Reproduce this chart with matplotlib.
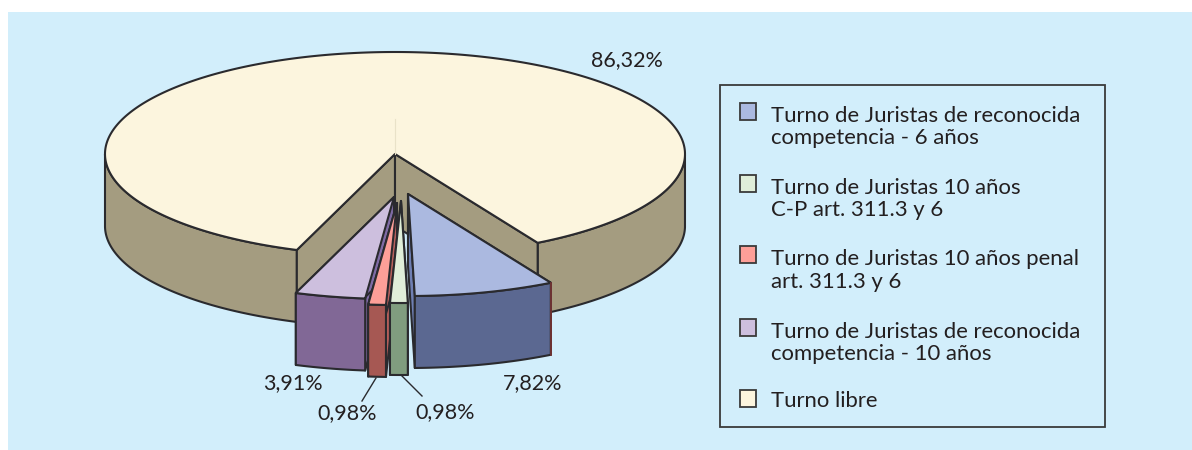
import numpy as np
import matplotlib
matplotlib.use('Agg')
import matplotlib.pyplot as plt
from matplotlib.patches import Polygon, Rectangle

plt.rcParams['font.family'] = ['Lato', 'DejaVu Sans']

# values as printed on the chart, clockwise from the lower right
labels = ['Turno de Juristas de reconocida\ncompetencia - 6 años',
          'Turno de Juristas 10 años\nC-P art. 311.3 y 6',
          'Turno de Juristas 10 años penal\nart. 311.3 y 6',
          'Turno de Juristas de reconocida\ncompetencia - 10 años',
          'Turno libre']
values = [7.82, 0.98, 0.98, 3.91, 86.32]
value_text = ['7,82%', '0,98%', '0,98%', '3,91%', '86,32%']
top_colors = ['#abb9e0', '#e0eed9', '#fd9f98', '#cdbfde', '#fcf5de']
wall_colors = ['#5b6891', '#809d7f', '#a65853', '#816896', '#a49c80']
cut_colors = ['#6f7fb3', '#809d7f', '#b8605c', '#7f6ba5', '#a49c80']
# apex of each slice, in pixels
apex_x = [408, 401, 397, 394, 395]
apex_y = [194, 201, 203, 197, 154]
text_x = [533, 445, 347, 293, 627]
text_y = [383, 412, 413, 383, 60]
swatch_y = [103, 175, 246, 319, 390]
legend_y = [127, 199, 270.5, 343, 401]

rx, ry, depth = 290, 102, 72
start = -60.5
edge = '#2a2a2e'


def rim(a, cx, cy):
    t = np.radians(a)
    return np.column_stack([cx + rx * np.cos(t), cy - ry * np.sin(t)])


def poly(ax, pts, color, z, lw=1.5):
    ax.add_patch(Polygon(pts, closed=True, facecolor=color, edgecolor=edge,
                         linewidth=lw, joinstyle='round', zorder=z))


def wall(ax, a, cx, cy, color, z):
    # only the part of the rim facing the viewer (below the horizontal)
    a = a[(np.sin(np.radians(a)) <= 0)]
    if len(a) < 2:
        return
    p = rim(a, cx, cy)
    q = p[::-1] + [0, depth]
    poly(ax, np.vstack([p, q]), color, z)


fig = plt.figure(figsize=(11.92, 4.5), dpi=100)
ax = fig.add_axes([0, 0, 1, 1])
ax.set_xlim(0, 1192)
ax.set_ylim(450, 0)
ax.axis('off')
ax.add_patch(Rectangle((8, 12), 1184, 438, facecolor='#d2eefb', edgecolor='none', zorder=0))

angles = start - np.cumsum([0] + values) * 3.6

# big slice first, it sits behind the others
a0, a1 = angles[4], angles[5]
arc = np.linspace(a0, a1, 400)
cx, cy = apex_x[4], apex_y[4]
wall(ax, arc[arc > -180], cx, cy, wall_colors[4], 2)
wall(ax, arc[arc < -180], cx, cy, wall_colors[4], 2)
for a in (a0, a1):
    p = rim(np.array([a]), cx, cy)[0]
    poly(ax, [(cx, cy), p, p + [0, depth], (cx, cy + depth)], cut_colors[4], 3)
poly(ax, np.vstack([[(cx, cy)], rim(arc, cx, cy)]), top_colors[4], 4)
ax.plot([cx, cx], [cy - 35, cy], color='#e9e2c8', lw=0.8, zorder=5)

# small slices, back to front
z = 10
for i in [3, 2, 1, 0]:
    a0, a1 = angles[i], angles[i + 1]
    arc = np.linspace(a0, a1, 60)
    cx, cy = apex_x[i], apex_y[i]
    for a in (a0, a1):
        p = rim(np.array([a]), cx, cy)[0]
        poly(ax, [(cx, cy), p, p + [0, depth], (cx, cy + depth)], cut_colors[i], z)
    wall(ax, arc, cx, cy, wall_colors[i], z + 1)
    poly(ax, np.vstack([[(cx, cy)], rim(arc, cx, cy)]), top_colors[i], z + 2)
    z += 3

# small dark red edge on the right of the blue slice
p = rim(np.array([angles[0]]), apex_x[0], apex_y[0])[0]
ax.plot([p[0], p[0]], [p[1], p[1] + depth], color='#7a3434', lw=1.2, zorder=30)

# leader lines of the two thin slices
ax.plot([376, 362], [378, 401], color=edge, lw=1, zorder=30)
ax.plot([402, 422], [376, 396], color=edge, lw=1, zorder=30)

for s, x, y in zip(value_text, text_x, text_y):
    ax.text(x, y, s, ha='center', va='center', fontsize=15.5, color='#231f20', zorder=31)

# legend
ax.add_patch(Rectangle((720, 85), 385, 342, facecolor='none', edgecolor='#3a3a3a', lw=1.3, zorder=31))
for lab, col, sy, y in zip(labels, top_colors, swatch_y, legend_y):
    ax.add_patch(Rectangle((740, sy), 16, 16.5, facecolor=col, edgecolor='#3a3a3a', lw=1.3, zorder=32))
    ax.text(771, y, lab, ha='left', va='center', fontsize=15.9, color='#231f20',
            linespacing=1.17, zorder=32)

fig.savefig('out.png', dpi=100, facecolor='white')
